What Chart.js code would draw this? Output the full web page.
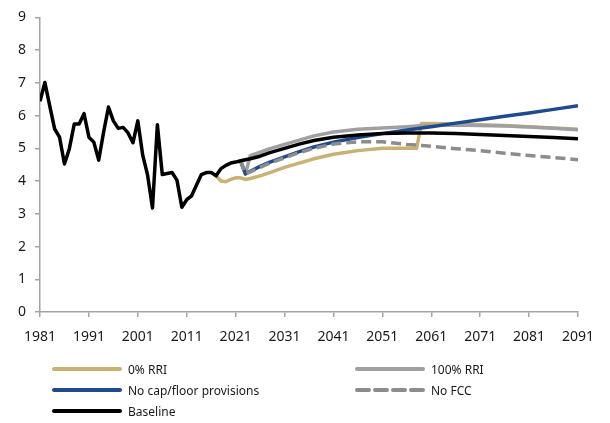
<!DOCTYPE html>
<html>
<head>
<meta charset="utf-8">
<script src="https://cdn.jsdelivr.net/npm/chart.js@4.4.1/dist/chart.umd.min.js"></script>
<style>
    html, body { margin: 0; padding: 0; background: #ffffff; }
    #wrap { position: relative; width: 610px; height: 423px; }
    #legend { position: absolute; left: 0; top: 0; width: 610px; height: 423px; pointer-events: none;
              font-family: 'Noto Sans', sans-serif; font-size: 12px; color: #1a1a1a; }
    .lg-item { position: absolute; height: 20px; display: flex; align-items: center; white-space: nowrap; }
    .lg-item svg { display: block; margin-right: 6px; }
</style>
</head>
<body>
<div id="wrap">
    <canvas id="chart" width="610" height="423"></canvas>
    <div id="legend"></div>
</div>
<script>
// ============================================
// Historical series (baseline), 1981-2018
// ============================================
const histYears = [1981, 1982, 1983, 1984, 1985, 1986, 1987, 1988, 1989, 1990,
                   1991, 1992, 1993, 1994, 1995, 1996, 1997, 1998, 1999, 2000,
                   2001, 2002, 2003, 2004, 2005, 2006, 2007, 2008, 2009, 2010,
                   2011, 2012, 2013, 2014, 2015, 2016, 2017, 2018];
const histValues = [6.44, 7.01, 6.29, 5.59, 5.34, 4.52, 4.99, 5.74, 5.74, 6.06,
                    5.34, 5.19, 4.64, 5.49, 6.26, 5.84, 5.61, 5.64, 5.47, 5.17,
                    5.84, 4.79, 4.18, 3.18, 5.72, 4.20, 4.23, 4.26, 4.03, 3.20,
                    3.43, 3.55, 3.88, 4.20, 4.26, 4.26, 4.16, 4.38];

// ============================================
// Projection series
// ============================================
const projYears = [2017, 2018, 2019, 2020, 2021, 2022, 2023, 2024, 2026, 2028,
                   2031, 2034, 2037, 2041, 2046, 2051, 2056, 2058, 2059, 2061,
                   2066, 2071, 2076, 2081, 2086, 2091];

const baselineProj = [null, null, 4.48, 4.55, 4.58, 4.62, 4.65, 4.68, 4.76, 4.87,
                      5.00, 5.13, 5.24, 5.34, 5.41, 5.45, 5.47, 5.47, 5.47, 5.47,
                      5.45, 5.42, 5.39, 5.36, 5.33, 5.29];
const rri0 = [4.16, 4.00, 3.98, 4.05, 4.10, 4.10, 4.05, 4.08, 4.16, 4.26,
              4.42, 4.55, 4.68, 4.82, 4.93, 5.00, 5.00, 5.00, 5.76, 5.76,
              5.74, 5.72, 5.70, 5.66, 5.62, 5.58];
const rri100 = [null, null, null, null, null, 4.62, 4.22, 4.78, 4.88, 4.99,
                5.12, 5.25, 5.38, 5.50, 5.58, 5.62, 5.66, 5.68, 5.69, 5.70,
                5.71, 5.70, 5.68, 5.65, 5.61, 5.57];
const noCapFloor = [null, null, null, null, null, 4.62, 4.22, 4.30, 4.45, 4.58,
                    4.74, 4.90, 5.04, 5.19, 5.33, 5.45, 5.56, 5.60, 5.62, 5.66,
                    5.77, 5.87, 5.98, 6.08, 6.19, 6.30];
const noFcc = [null, null, null, null, null, 4.62, 4.22, 4.28, 4.42, 4.55,
               4.71, 4.87, 5.00, 5.13, 5.20, 5.20, 5.12, 5.10, 5.09, 5.06,
               4.99, 4.93, 4.85, 4.78, 4.72, 4.65];

const yTicks = [0, 1, 2, 3, 4, 5, 6, 7, 8, 9];
const xTickYears = [1981, 1991, 2001, 2011, 2021, 2031, 2041, 2051, 2061, 2071, 2081, 2091];

const FONT = "'Noto Sans', sans-serif";
const AXIS_COLOR = '#a3a3a3';

function toPoints(xs, ys) {
    const pts = [];
    for (let i = 0; i < xs.length; i++) {
        if (ys[i] != null) pts.push({ x: xs[i], y: ys[i] });
    }
    return pts;
}

const baselinePoints = toPoints(histYears, histValues).concat(toPoints(projYears, baselineProj));

const datasets = [
    { label: '0% RRI', data: toPoints(projYears, rri0), borderColor: '#c8b273', order: 5 },
    { label: '100% RRI', data: toPoints(projYears, rri100), borderColor: '#a0a0a0', order: 4 },
    { label: 'No cap/floor provisions', data: toPoints(projYears, noCapFloor), borderColor: '#1f4b8e', order: 3 },
    { label: 'No FCC', data: toPoints(projYears, noFcc), borderColor: '#8c8c8c', borderDash: [10, 5], order: 2 },
    { label: 'Baseline', data: baselinePoints, borderColor: '#000000', order: 1 }
].map(ds => Object.assign({
    borderWidth: 3.5,
    pointRadius: 0,
    pointHoverRadius: 0,
    fill: false,
    tension: 0,
    borderJoinStyle: 'round',
    borderCapStyle: 'butt'
}, ds));

const ctx = document.getElementById('chart').getContext('2d');
const chart = new Chart(ctx, {
    type: 'line',
    data: { datasets: datasets },
    options: {
        responsive: false,
        animation: false,
        events: [],
        layout: { padding: { top: 13, right: 32, left: 0, bottom: 0 } },
        plugins: {
            legend: { display: false },
            tooltip: { enabled: false }
        },
        scales: {
            x: {
                type: 'linear',
                min: 1981,
                max: 2091,
                afterFit: s => { s.height = 111; },
                afterBuildTicks: s => { s.ticks = xTickYears.map(v => ({ value: v })); },
                grid: { drawOnChartArea: false, drawTicks: true, tickLength: 5, color: AXIS_COLOR, lineWidth: 1.5 },
                border: { display: true, color: AXIS_COLOR, width: 1.5 },
                ticks: {
                    color: '#1a1a1a',
                    font: { family: FONT, size: 14 },
                    padding: 12,
                    maxRotation: 0,
                    autoSkip: false,
                    callback: v => String(v)
                }
            },
            y: {
                min: 0,
                max: 9,
                afterFit: s => { s.width = 40; },
                afterBuildTicks: s => { s.ticks = yTicks.map(v => ({ value: v })); },
                grid: { drawOnChartArea: false, drawTicks: true, tickLength: 5, color: AXIS_COLOR, lineWidth: 1.5 },
                border: { display: true, color: AXIS_COLOR, width: 1.5 },
                ticks: {
                    color: '#1a1a1a',
                    font: { family: FONT, size: 14 },
                    padding: 9,
                    callback: v => String(v)
                }
            }
        }
    }
});

// HTML legend in two columns, built from the chart datasets
const legendCols = [52, 355];
const legendRows = [369, 390, 411];
const legendEl = document.getElementById('legend');
chart.data.datasets.forEach((ds, i) => {
    const item = document.createElement('div');
    item.className = 'lg-item';
    item.style.left = legendCols[i % 2] + 'px';
    item.style.top = (legendRows[Math.floor(i / 2)] - 10) + 'px';
    const dash = ds.borderDash ? ` stroke-dasharray="${ds.borderDash[0] + 2} ${ds.borderDash[1] + 1}"` : '';
    item.innerHTML =
        `<svg width="70" height="8"><line x1="2" y1="4" x2="68" y2="4" stroke="${ds.borderColor}" ` +
        `stroke-width="4" stroke-linecap="round"${dash}/></svg><span>${ds.label}</span>`;
    legendEl.appendChild(item);
});
</script>
</body>
</html>
